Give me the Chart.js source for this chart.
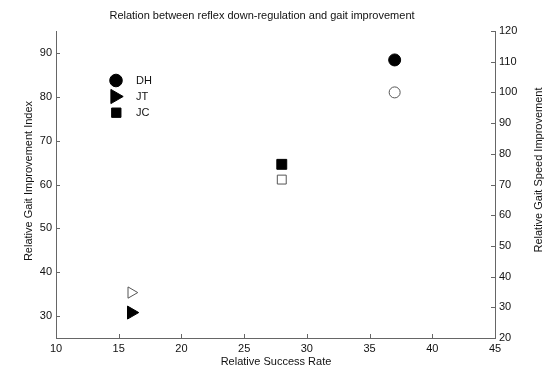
<!DOCTYPE html>
<html>
<head>
<meta charset="utf-8">
<script src="https://cdn.jsdelivr.net/npm/chart.js@4/dist/chart.umd.min.js"></script>
<style>
  html, body { margin: 0; padding: 0; background: #fff; }
  #wrap { width: 550px; height: 379px; }
</style>
</head>
<body>
<div id="wrap"><canvas id="chart" width="550" height="379"></canvas></div>
<script>
// --- data ---
const subjects = ['DH', 'JT', 'JC'];
const successRate = [37, 16, 28];           // x: Relative Success Rate
const gaitIndex = [88.4, 30.8, 64.6];       // left axis, filled markers
const speedImprovement = [100, 34.8, 71.6]; // right axis, open markers

const xTicks = [10, 15, 20, 25, 30, 35, 40, 45];
const leftTicks = [30, 40, 50, 60, 70, 80, 90];
const rightTicks = [20, 30, 40, 50, 60, 70, 80, 90, 100, 110, 120];

// marker look per subject
const shapes = ['circle', 'triangle', 'rect'];
const rotations = [0, 90, 0];
const filledRadius = [6, 7.5, 7];
const openRadius = [5.5, 6.5, 6.3];

const FONT = "'Liberation Sans', Arial, sans-serif";
const TEXT = '#111';
const AXIS = '#666';

const datasets = [];
subjects.forEach((name, i) => {
    datasets.push({
        label: name,
        data: [{ x: successRate[i], y: gaitIndex[i] }],
        yAxisID: 'y',
        pointStyle: shapes[i],
        rotation: rotations[i],
        pointRadius: filledRadius[i],
        pointHoverRadius: filledRadius[i],
        backgroundColor: '#000',
        borderColor: '#000',
        borderWidth: 1
    });
    datasets.push({
        label: name + ' speed',
        data: [{ x: successRate[i], y: speedImprovement[i] }],
        yAxisID: 'y2',
        pointStyle: shapes[i],
        rotation: rotations[i],
        pointRadius: openRadius[i],
        pointHoverRadius: openRadius[i],
        backgroundColor: 'rgba(255,255,255,0)',
        borderColor: '#555',
        borderWidth: 1
    });
});

function useTicks(values) {
    return scale => { scale.ticks = values.map(v => ({ value: v })); };
}

// ticks drawn inward, like the original figure
const innerTicks = {
    id: 'innerTicks',
    afterDraw(chart) {
        const { ctx, chartArea: a, scales } = chart;
        ctx.save();
        ctx.strokeStyle = AXIS;
        ctx.lineWidth = 1;
        ctx.beginPath();
        xTicks.forEach(v => {
            const px = Math.round(scales.x.getPixelForValue(v)) + 0.5;
            ctx.moveTo(px, a.bottom); ctx.lineTo(px, a.bottom - 4);
        });
        leftTicks.forEach(v => {
            const py = Math.round(scales.y.getPixelForValue(v)) + 0.5;
            ctx.moveTo(a.left, py); ctx.lineTo(a.left + 4, py);
        });
        rightTicks.forEach(v => {
            const py = Math.round(scales.y2.getPixelForValue(v)) + 0.5;
            ctx.moveTo(a.right, py); ctx.lineTo(a.right - 4, py);
        });
        ctx.stroke();
        ctx.restore();
    }
};

// title, axis titles and the in-plot legend
const labels = {
    id: 'labels',
    afterDraw(chart) {
        const ctx = chart.ctx;
        ctx.save();
        ctx.fillStyle = TEXT;
        ctx.font = '11px ' + FONT;
        ctx.textAlign = 'center';
        ctx.textBaseline = 'middle';
        ctx.fillText('Relation between reflex down-regulation and gait improvement', 262, 16);
        ctx.fillText('Relative Success Rate', 276, 362);

        ctx.save();
        ctx.translate(29, 181);
        ctx.rotate(-Math.PI / 2);
        ctx.fillText('Relative Gait Improvement Index', 0, 0);
        ctx.restore();

        ctx.save();
        ctx.translate(539, 170);
        ctx.rotate(-Math.PI / 2);
        ctx.fillText('Relative Gait Speed Improvement', 0, 0);
        ctx.restore();

        // legend
        const rows = [80.5, 96.5, 112.7];
        const legendRadius = [6.3, 8.2, 6.6];
        const legendX = [116, 115, 116.3];
        ctx.fillStyle = '#000';
        ctx.strokeStyle = '#000';
        ctx.lineWidth = 1;
        subjects.forEach((name, i) => {
            Chart.helpers.drawPoint(ctx, {
                pointStyle: shapes[i], rotation: rotations[i], radius: legendRadius[i], borderWidth: 1
            }, legendX[i], rows[i]);
        });
        ctx.fillStyle = TEXT;
        ctx.textAlign = 'left';
        subjects.forEach((name, i) => ctx.fillText(name, 136, rows[i]));
        ctx.restore();
    }
};

const tickFont = { family: FONT, size: 11 };

new Chart(document.getElementById('chart'), {
    type: 'scatter',
    data: { datasets },
    options: {
        responsive: false,
        animation: false,
        layout: { padding: { top: 31, left: 0, right: 0, bottom: 0 } },
        plugins: { legend: { display: false }, title: { display: false }, tooltip: { enabled: false } },
        scales: {
            x: {
                type: 'linear', min: 10, max: 45,
                afterBuildTicks: useTicks(xTicks),
                afterFit: s => { s.height = 41; },
                grid: { drawOnChartArea: false, drawTicks: false },
                border: { display: true, color: AXIS, width: 1 },
                ticks: { font: tickFont, color: TEXT, padding: 4, maxRotation: 0, autoSkip: false }
            },
            y: {
                type: 'linear', position: 'left', min: 25, max: 95,
                afterBuildTicks: useTicks(leftTicks),
                afterFit: s => { s.width = 56; },
                grid: { drawOnChartArea: false, drawTicks: false },
                border: { display: true, color: AXIS, width: 1 },
                ticks: { font: tickFont, color: TEXT, padding: 4, autoSkip: false }
            },
            y2: {
                type: 'linear', position: 'right', min: 20, max: 120,
                afterBuildTicks: useTicks(rightTicks),
                afterFit: s => { s.width = 55; },
                grid: { drawOnChartArea: false, drawTicks: false },
                border: { display: true, color: AXIS, width: 1 },
                ticks: { font: tickFont, color: TEXT, padding: 4, autoSkip: false }
            }
        }
    },
    plugins: [innerTicks, labels]
});
</script>
</body>
</html>
